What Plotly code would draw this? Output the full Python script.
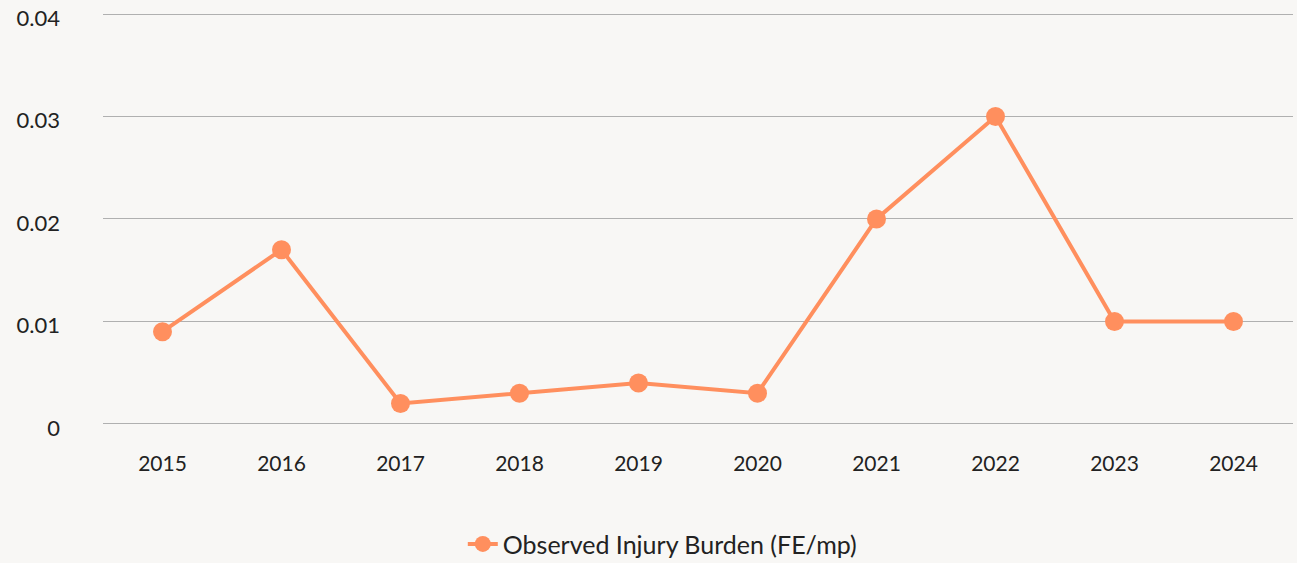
import plotly.graph_objects as go

years = ["2015", "2016", "2017", "2018", "2019", "2020", "2021", "2022", "2023", "2024"]
burden = [0.009, 0.017, 0.002, 0.003, 0.004, 0.003, 0.02, 0.03, 0.01, 0.01]
y_ticks = [0, 0.01, 0.02, 0.03, 0.04]
y_labels = ["0", "0.01", "0.02", "0.03", "0.04"]

orange = "#ff8f5e"
bg = "#f8f7f5"

fig = go.Figure()
fig.add_trace(go.Scatter(
    x=years,
    y=burden,
    mode="lines+markers",
    name="Observed Injury Burden (FE/mp)",
    line=dict(color=orange, width=4),
    marker=dict(color=orange, size=19),
))

fig.update_layout(
    width=1297,
    height=563,
    paper_bgcolor=bg,
    plot_bgcolor=bg,
    margin=dict(l=103, r=4, t=13, b=135, autoexpand=False),
    font=dict(family="Lato, sans-serif", size=21, color="#222222"),
    showlegend=True,
    legend=dict(
        orientation="h",
        x=0.47, xanchor="center",
        y=-0.28, yanchor="middle",
        font=dict(size=25, color="#222222"),
        bgcolor="rgba(0,0,0,0)",
    ),
    xaxis=dict(
        type="category",
        range=[-0.5, 9.5],
        showgrid=False,
        showline=False,
        zeroline=False,
        ticks="",
        ticklabelstandoff=21,
    ),
    yaxis=dict(
        range=[-0.0004, 0.0401],
        tickvals=y_ticks,
        ticktext=y_labels,
        tickfont=dict(size=22),
        ticklabeloverflow="allow",
        ticklabelshift=4,
        showgrid=True,
        gridcolor="#b0b0b0",
        gridwidth=1,
        zeroline=False,
        showline=False,
        ticks="",
        ticklabelstandoff=42,
    ),
)

fig.write_html(
    "out.html",
    config={"displayModeBar": False},
    post_script="document.body.style.margin='0';",
)
